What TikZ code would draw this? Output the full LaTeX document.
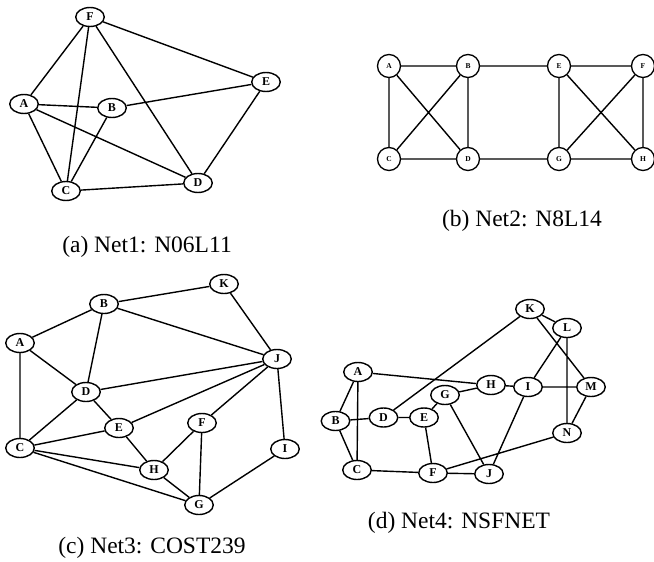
\documentclass[tikz,border=0pt]{standalone}
\usepackage{fontspec}
\setmainfont{Liberation Serif}
\usetikzlibrary{shapes.geometric}
\tikzset{
  nd/.style={ellipse, draw, line width=1.4pt, inner sep=0pt, minimum width=28.5pt, minimum height=19pt, font=\bfseries\fontsize{12}{12}\selectfont},
  sn/.style={circle, draw, line width=1.3pt, inner sep=0pt, minimum size=23pt, font=\bfseries\fontsize{7.5}{7.5}\selectfont},
  ed/.style={line width=1.4pt},
  captxt/.style={anchor=base, font=\fontsize{23.5}{23.5}\selectfont, inner sep=0pt}
}
\begin{document}
\begin{tikzpicture}[x=1pt,y=-1pt]
\useasboundingbox (0,0) rectangle (654,562);
% ---------- (a)
\node[nd] (aF) at (90,17) {F};
\node[nd] (aE) at (266,82) {E};
\node[nd] (aA) at (24,104) {A};
\node[nd] (aB) at (112,108) {B};
\node[nd] (aC) at (66,191) {C};
\node[nd] (aD) at (198,183) {D};
\draw[ed] (aF)--(aA) (aF)--(aC) (aF)--(aD) (aF)--(aE) (aA)--(aB) (aA)--(aC) (aA)--(aD) (aB)--(aE) (aB)--(aC) (aC)--(aD) (aE)--(aD);
\node[captxt] (capa) at (147,252) {(a) Net1: N06L11};
% ---------- (b)
\node[sn] (bA) at (389,66) {A};
\node[sn] (bB) at (468,66) {B};
\node[sn] (bE) at (559,66) {E};
\node[sn] (bF) at (643,66) {F};
\node[sn] (bC) at (389,159) {C};
\node[sn] (bD) at (468,159) {D};
\node[sn] (bG) at (559,159) {G};
\node[sn] (bH) at (643,159) {H};
\draw[ed] (bA)--(bB) (bA)--(bC) (bA)--(bD) (bB)--(bC) (bB)--(bD) (bC)--(bD) (bB)--(bE) (bD)--(bG) (bE)--(bF) (bE)--(bG) (bE)--(bH) (bF)--(bG) (bF)--(bH) (bG)--(bH);
\node[captxt] (capb) at (522,226) {(b) Net2: N8L14};
% ---------- (c)
\node[nd] (cK) at (224,284) {K};
\node[nd] (cB) at (104,304) {B};
\node[nd] (cA) at (20,343) {A};
\node[nd] (cJ) at (277,359) {J};
\node[nd] (cD) at (86,392) {D};
\node[nd] (cE) at (119,428) {E};
\node[nd] (cF) at (202,423) {F};
\node[nd] (cC) at (20,448) {C};
\node[nd] (cI) at (285,449) {I};
\node[nd] (cH) at (154,470) {H};
\node[nd] (cG) at (199,505) {G};
\draw[ed] (cK)--(cB) (cK)--(cJ) (cB)--(cA) (cB)--(cJ) (cB)--(cD) (cA)--(cD) (cA)--(cC) (cD)--(cJ) (cD)--(cC) (cD)--(cE) (cE)--(cJ) (cE)--(cC) (cE)--(cH) (cC)--(cH) (cC)--(cG) (cJ)--(cF) (cJ)--(cI) (cF)--(cH) (cF)--(cG) (cH)--(cG) (cI)--(cG);
\node[captxt] (capc) at (152,553) {(c) Net3: COST239};
% ---------- (d)
\node[nd] (dK) at (530,309) {K};
\node[nd] (dL) at (567,328) {L};
\node[nd] (dA) at (358,372) {A};
\node[nd] (dH) at (491,385) {H};
\node[nd] (dI) at (528,387) {I};
\node[nd] (dM) at (591,387) {M};
\node[nd] (dG) at (445,395) {G};
\node[nd] (dB) at (335.5,421) {B};
\node[nd] (dD) at (383.5,417.5) {D};
\node[nd] (dE) at (424,417.5) {E};
\node[nd] (dN) at (567,433) {N};
\node[nd] (dC) at (357,470) {C};
\node[nd] (dF) at (433,473) {F};
\node[nd] (dJ) at (489,474) {J};
\draw[ed] (dK)--(dL) (dK)--(dD) (dK)--(dM) (dL)--(dI) (dL)--(dN) (dA)--(dH) (dA)--(dB) (dA)--(dC) (dB)--(dD) (dB)--(dC) (dD)--(dE) (dE)--(dG) (dG)--(dH) (dH)--(dI) (dI)--(dM) (dI)--(dJ) (dG)--(dJ) (dE)--(dF) (dM)--(dN) (dN)--(dF) (dC)--(dF) (dF)--(dJ);
\node[captxt] (capd) at (459,528) {(d) Net4: NSFNET};
\end{tikzpicture}
\end{document}
